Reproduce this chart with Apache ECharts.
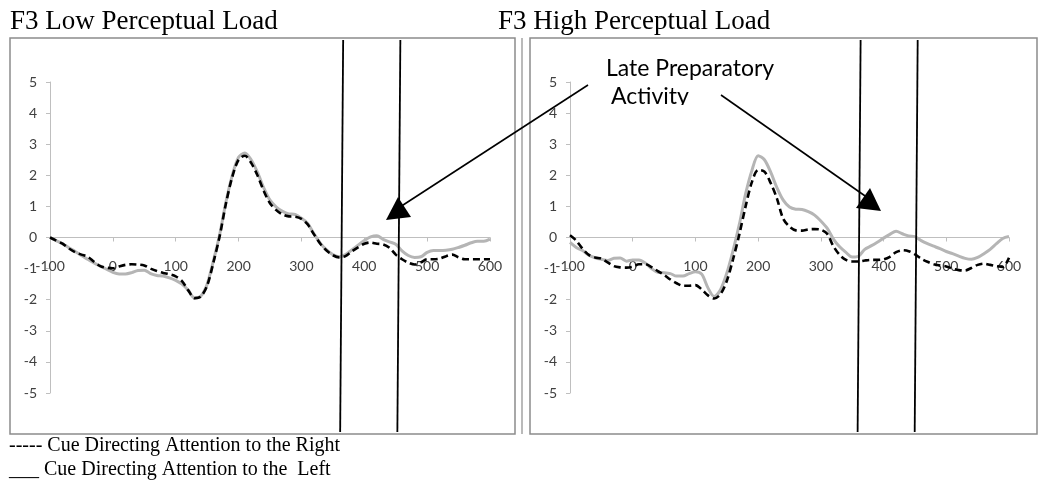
<!DOCTYPE html>
<html>
<head>
<meta charset="utf-8">
<script src="https://cdn.jsdelivr.net/npm/echarts@6/dist/echarts.min.js"></script>
<style>html,body{margin:0;padding:0;background:#fff}#c{width:1050px;height:489px}</style>
</head>
<body>
<div id="c"></div>
<script>
const times = [-100,-90,-80,-70,-60,-50,-40,-30,-20,-10,0,10,20,30,40,50,60,70,80,90,100,110,120,130,140,150,160,170,180,190,200,210,220,230,240,250,260,270,280,290,300,310,320,330,340,350,360,370,380,390,400,410,420,430,440,450,460,470,480,490,500,510,520,530,540,550,560,570,580,590,600];

// Low perceptual load
const lowRight = [0,-0.1,-0.2,-0.35,-0.47,-0.55,-0.62,-0.78,-0.92,-0.97,-0.99,-0.93,-0.88,-0.86,-0.87,-0.9,-1.0,-1.08,-1.14,-1.18,-1.25,-1.4,-1.7,-1.95,-1.9,-1.55,-0.8,0.05,1.1,1.95,2.5,2.63,2.4,2.0,1.5,1.1,0.88,0.74,0.68,0.67,0.6,0.42,0.1,-0.2,-0.42,-0.57,-0.64,-0.6,-0.45,-0.32,-0.2,-0.16,-0.2,-0.22,-0.33,-0.55,-0.7,-0.81,-0.87,-0.8,-0.7,-0.7,-0.68,-0.6,-0.55,-0.64,-0.7,-0.7,-0.7,-0.7,-0.7];
const lowLeft = [0,-0.1,-0.2,-0.33,-0.45,-0.58,-0.7,-0.82,-0.92,-1.02,-1.12,-1.17,-1.17,-1.13,-1.06,-1.05,-1.16,-1.22,-1.24,-1.3,-1.38,-1.5,-1.7,-1.95,-1.88,-1.5,-0.75,0.1,1.15,2.0,2.58,2.72,2.5,2.1,1.6,1.2,0.98,0.84,0.76,0.74,0.62,0.45,0.12,-0.18,-0.4,-0.55,-0.62,-0.55,-0.4,-0.25,-0.1,0.02,0.06,-0.06,-0.14,-0.22,-0.43,-0.58,-0.64,-0.62,-0.48,-0.42,-0.42,-0.41,-0.38,-0.32,-0.25,-0.17,-0.12,-0.12,-0.05];

// High perceptual load
const highRight = [0.07,-0.1,-0.36,-0.56,-0.64,-0.68,-0.8,-0.92,-0.96,-0.97,-0.94,-0.86,-0.86,-0.95,-1.08,-1.2,-1.35,-1.47,-1.55,-1.55,-1.53,-1.67,-1.86,-1.96,-1.82,-1.4,-0.7,0.1,1.0,1.78,2.17,2.12,1.75,1.25,0.6,0.35,0.23,0.22,0.26,0.27,0.25,0.12,-0.28,-0.56,-0.72,-0.77,-0.77,-0.74,-0.72,-0.72,-0.7,-0.62,-0.47,-0.41,-0.44,-0.54,-0.68,-0.78,-0.86,-0.9,-0.93,-1.0,-1.05,-1.06,-0.98,-0.88,-0.84,-0.88,-0.92,-0.95,-0.65];
const highLeft = [-0.16,-0.32,-0.42,-0.57,-0.65,-0.7,-0.74,-0.67,-0.66,-0.76,-0.72,-0.72,-0.82,-1.0,-1.12,-1.13,-1.16,-1.24,-1.24,-1.16,-1.1,-1.18,-1.62,-1.9,-1.68,-1.15,-0.42,0.42,1.4,2.15,2.63,2.5,2.1,1.6,1.2,0.98,0.91,0.9,0.83,0.72,0.53,0.3,-0.05,-0.3,-0.48,-0.63,-0.6,-0.38,-0.27,-0.15,-0.02,0.1,0.2,0.12,0.05,0.03,-0.1,-0.2,-0.28,-0.36,-0.45,-0.52,-0.6,-0.67,-0.7,-0.64,-0.52,-0.38,-0.2,-0.03,0.03];

const xTicks = [-100,0,100,200,300,400,500,600];
const yTicks = [-5,-4,-3,-2,-1,0,1,2,3,4,5];
const windowLow = [364, 455];
const windowHigh = [361, 452];

const titles = ['F3 Low Perceptual Load', 'F3 High Perceptual Load'];
const legendLines = ['----- Cue Directing Attention to the Right', '___ Cue Directing Attention to the  Left'];
const annotation = ['Late Preparatory', 'Activity'];

const pair = (xs, ys) => xs.map((t, i) => [t, ys[i]]);

const chart = echarts.init(document.getElementById('c'), null, {renderer: 'canvas'});

const axisGray = '#bfbfbf';
const labelColor = '#404040';
const labelFont = 'Lato, "Open Sans", sans-serif';
const GRID_TOP = 82, GRID_H = 311;

function xAxisDef(gi) {
  return {
    gridIndex: gi, type: 'value', min: xTicks[0], max: xTicks[xTicks.length - 1], interval: 100,
    position: 'bottom', offset: -GRID_H / 2,
    axisLine: {onZero: false, lineStyle: {color: axisGray, width: 1}},
    axisTick: {show: true, length: 4, lineStyle: {color: axisGray}},
    axisLabel: {color: labelColor, fontSize: 14, fontFamily: labelFont, margin: 22},
    splitLine: {show: false}
  };
}
function yAxisDef(gi) {
  return {
    gridIndex: gi, type: 'value', min: yTicks[0], max: yTicks[yTicks.length - 1], interval: 1,
    axisLine: {show: true, onZero: false, lineStyle: {color: axisGray, width: 1}},
    axisTick: {show: true, length: 4, lineStyle: {color: axisGray}},
    axisLabel: {color: labelColor, fontSize: 14, fontFamily: labelFont, margin: 13},
    splitLine: {show: false}
  };
}
const grayStyle = {color: '#b5b5b5', width: 3};
const dashStyle = {color: '#000', width: 2.6, type: [7, 4]};
function lineSeries(gi, data, style, z) {
  return {
    type: 'line', xAxisIndex: gi, yAxisIndex: gi, data: data,
    showSymbol: false, symbol: 'none', smooth: 0.3, lineStyle: style, z: z,
    animation: false
  };
}

chart.setOption({
  animation: false,
  grid: [
    {left: 50, width: 440, top: GRID_TOP, height: GRID_H},
    {left: 570, width: 439, top: GRID_TOP, height: GRID_H}
  ],
  xAxis: [xAxisDef(0), xAxisDef(1)],
  yAxis: [yAxisDef(0), yAxisDef(1)],
  series: [
    lineSeries(0, pair(times, lowLeft), grayStyle, 2),
    lineSeries(0, pair(times, lowRight), dashStyle, 3),
    lineSeries(1, pair(times, highLeft), grayStyle, 2),
    lineSeries(1, pair(times, highRight), dashStyle, 3)
  ]
});

// annotations / frames
const g = [];
const frameColor = '#8c8c8c';
g.push({type: 'rect', shape: {x: 10, y: 38, width: 505, height: 396}, style: {fill: null, stroke: frameColor, lineWidth: 1.5}, z: 1});
g.push({type: 'line', shape: {x1: 522, y1: 38, x2: 522, y2: 434}, style: {stroke: frameColor, lineWidth: 1.2}, z: 1});
g.push({type: 'rect', shape: {x: 530, y: 38, width: 507, height: 396}, style: {fill: null, stroke: frameColor, lineWidth: 1.5}, z: 1});

const serif = '"Liberation Serif", "DejaVu Serif", serif';
function txt(x, yMid, text, font) {
  return {type: 'text', x: x, y: yMid, style: {text: text, font: font, fill: '#000', verticalAlign: 'middle', align: 'left'}, z: 30};
}
g.push(txt(10, 22, titles[0], '27px ' + serif));
g.push(txt(498, 22, titles[1], '27px ' + serif));
g.push(txt(9, 446, legendLines[0], '20px ' + serif));
g.push(txt(9, 470, legendLines[1], '20px ' + serif));

// cue-window vertical lines, positioned by the data axes
function vlines(gi, ts) {
  ts.forEach(t => {
    const p = chart.convertToPixel({gridIndex: gi}, [t, 0]);
    g.push({type: 'line', shape: {x1: p[0] + 1.5, y1: 40, x2: p[0] - 1.5, y2: 432}, style: {stroke: '#000', lineWidth: 1.8}, z: 20});
  });
}
vlines(0, windowLow);
vlines(1, windowHigh);

// annotation text and arrows
const sans = 'Lato, "Open Sans", sans-serif';
g.push(txt(606, 69, annotation[0], '23px ' + sans));
g.push(txt(611, 97, annotation[1], '23px ' + sans));
g.push({type: 'rect', shape: {x: 604, y: 105, width: 100, height: 10}, style: {fill: '#fff'}, z: 31});

g.push({type: 'line', shape: {x1: 588, y1: 85, x2: 400, y2: 207}, style: {stroke: '#000', lineWidth: 1.6}, z: 30});
g.push({type: 'polygon', shape: {points: [[386, 220], [411, 217], [398, 197]]}, style: {fill: '#000'}, z: 30});
g.push({type: 'line', shape: {x1: 721, y1: 95, x2: 868, y2: 198}, style: {stroke: '#000', lineWidth: 1.6}, z: 30});
g.push({type: 'polygon', shape: {points: [[856, 208], [881, 211], [870, 188]]}, style: {fill: '#000'}, z: 30});

chart.setOption({graphic: {elements: g}});
</script>
</body>
</html>
